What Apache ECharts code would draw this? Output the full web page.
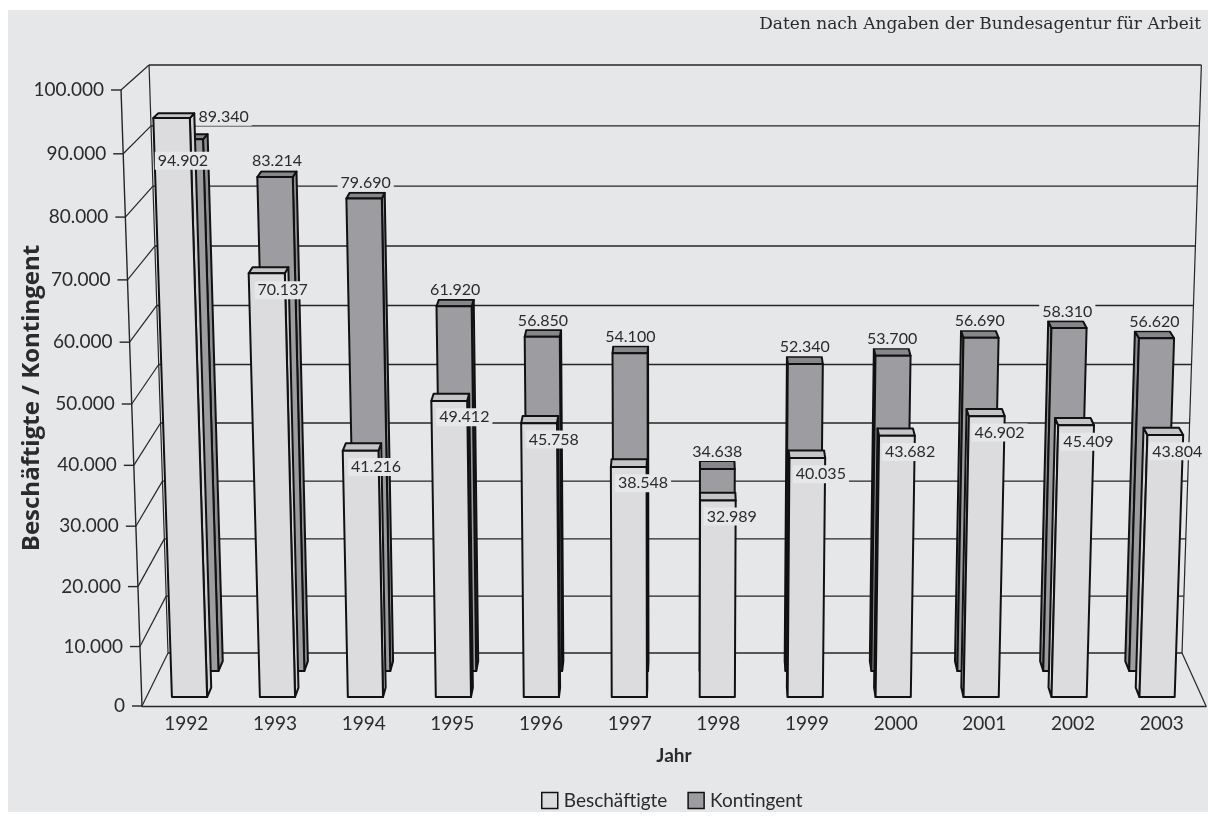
<!DOCTYPE html>
<html>
<head>
<meta charset="utf-8">
<script src="https://cdn.jsdelivr.net/npm/echarts@6/dist/echarts.min.js"></script>
<style>
  html, body { margin: 0; padding: 0; background: #ffffff; }
  #chart { width: 1208px; height: 818px; }
</style>
</head>
<body>
<div id="chart"></div>
<script>
// ---- data ----
const years = ['1992', '1993', '1994', '1995', '1996', '1997', '1998', '1999', '2000', '2001', '2002', '2003'];
const beschaeftigte = [94902, 70137, 41216, 49412, 45758, 38548, 32989, 40035, 43682, 46902, 45409, 43804];
const kontingent = [89340, 83214, 79690, 61920, 56850, 54100, 34638, 52340, 53700, 56690, 58310, 56620];
const valueTicks = [0, 10000, 20000, 30000, 40000, 50000, 60000, 70000, 80000, 90000, 100000];
const valueTickLabels = ['0', '10.000', '20.000', '30.000', '40.000', '50.000', '60.000', '70.000', '80.000', '90.000', '100.000'];
const seriesNames = ['Beschäftigte', 'Kontingent'];
const valueMax = 100000;

// ---- pseudo-3D box geometry ----
// homogeneous perspective coefficients (pixels): t = height share, d = depth share
const CAM = { bx: -25.6, bw: -0.0382, cx: 34.3, cy: -20.8, cw: 0.0493 };
const ROW_DEPTH = { front: [0.163, 0.337], back: [0.65, 0.84] };
const BAR_SPAN = [0.29, 0.69];          // part of a category band filled by a column
const LABEL_OFFSET = { front: [14, 20], back: [0, -13] };
const LABEL_NUDGE = { front: { 0: [-5, 25] }, back: { 0: [36, -7] } };

const COLORS = {
  wall: '#e6e7e9',
  grid: '#262626',
  edge: '#111111',
  text: '#2b2b2b',
  front: { face: '#dcdcdf', top: '#c5c5c8', side: '#d1d1d4' },
  back: { face: '#9d9da1', top: '#87878b', side: '#8f8f93' }
};
const FONT = 'Lato, "Open Sans", sans-serif';

function fmt(v) {
  return String(v).replace(/\B(?=(\d{3})+(?!\d))/g, '.');
}

// maps the flat cartesian grid onto the perspective box
function makeProjector(api) {
  const origin = api.coord([0, 0]);
  const band = api.size([1, 0])[0];
  const y0 = origin[1];
  const y1 = api.coord([0, valueMax])[1];
  const xL = origin[0] - band / 2;
  const by = y1 * (1 + CAM.bw) - y0;
  function P(px, t, d) {
    const w = 1 + CAM.bw * t + CAM.cw * d;
    return [(px + CAM.bx * t + CAM.cx * d) / w, (y0 + by * t + CAM.cy * d) / w];
  }
  function tOf(v) {
    return (y0 - api.coord([0, v])[1]) / (y0 - y1);
  }
  return { P, tOf, band, xL, xR: xL + band * years.length };
}

function line(a, b, width, color, z2) {
  return {
    type: 'line',
    shape: { x1: a[0], y1: a[1], x2: b[0], y2: b[1] },
    style: { stroke: color, lineWidth: width },
    z2: z2 || 1,
    silent: true
  };
}

// back wall, left wall, floor, value ticks and their labels
function renderFrame(params, api) {
  const pr = makeProjector(api);
  const v = api.value(1);
  const t = pr.tOf(v);
  const P = pr.P;
  const children = [];
  const frontPt = P(pr.xL, t, 0);
  children.push(line(P(pr.xL, t, 1), P(pr.xR, t, 1), 1.4, COLORS.grid));
  children.push(line(frontPt, P(pr.xL, t, 1), 1.2, COLORS.grid));
  children.push(line(frontPt, [frontPt[0] - 10, frontPt[1]], 1.4, COLORS.grid));
  children.push({
    type: 'text',
    x: frontPt[0] - 17,
    y: frontPt[1],
    style: {
      text: valueTickLabels[params.dataIndex],
      font: '19px ' + FONT,
      fill: COLORS.text,
      align: 'right',
      verticalAlign: 'middle'
    },
    silent: true
  });
  if (params.dataIndex === 0) {
    children.push(line(P(pr.xL, 0, 0), P(pr.xL, 1, 0), 1.4, COLORS.grid));
    children.push(line(P(pr.xL, 0, 1), P(pr.xL, 1, 1), 1.2, COLORS.grid));
    children.push(line(P(pr.xR, 0, 1), P(pr.xR, 1, 1), 1.2, COLORS.grid));
    children.push(line(P(pr.xR, 0, 0), P(pr.xR, 0, 1), 1.2, COLORS.grid));
  }
  return { type: 'group', children };
}

function makeBarRenderer(row, zBase) {
  const depth = ROW_DEPTH[row];
  const pal = COLORS[row];
  return function (params, api) {
    const pr = makeProjector(api);
    const P = pr.P;
    const i = api.value(0);
    const v = api.value(1);
    const c = api.coord([i, v]);
    const start = c[0] - pr.band / 2;
    const xa = start + BAR_SPAN[0] * pr.band;
    const xb = start + BAR_SPAN[1] * pr.band;
    const t = pr.tOf(v);
    const d0 = depth[0], d1 = depth[1];
    const fA = P(xa, 0, d0), fB = P(xb, 0, d0), fC = P(xb, t, d0), fD = P(xa, t, d0);
    const bA = P(xa, 0, d1), bB = P(xb, 0, d1), bC = P(xb, t, d1), bD = P(xa, t, d1);
    const stroke = { stroke: COLORS.edge, lineWidth: 2, lineJoin: 'round' };
    const children = [];
    if (bC[0] > fC[0] + 0.3) {
      children.push({ type: 'polygon', shape: { points: [fB, bB, bC, fC] },
        style: Object.assign({ fill: pal.side }, stroke), z2: zBase });
    }
    if (bD[0] < fD[0] - 0.3) {
      children.push({ type: 'polygon', shape: { points: [fA, bA, bD, fD] },
        style: Object.assign({ fill: pal.side }, stroke), z2: zBase });
    }
    children.push({ type: 'polygon', shape: { points: [fD, fC, bC, bD] },
      style: Object.assign({ fill: pal.top }, stroke), z2: zBase + 1 });
    children.push({ type: 'polygon', shape: { points: [fA, fB, fC, fD] },
      style: Object.assign({ fill: pal.face }, stroke), z2: zBase + 2 });

    const topCenter = P((xa + xb) / 2, t, (d0 + d1) / 2);
    const off = LABEL_OFFSET[row];
    const nudge = LABEL_NUDGE[row][params.dataIndex] || [0, 0];
    children.push({
      type: 'text',
      x: topCenter[0] + off[0] + nudge[0],
      y: topCenter[1] + off[1] + nudge[1],
      style: {
        text: fmt(v),
        font: '16px ' + FONT,
        fill: COLORS.text,
        align: 'center',
        verticalAlign: 'middle',
        backgroundColor: COLORS.wall,
        padding: [1, 3]
      },
      z2: 100
    });
    return { type: 'group', children };
  };
}

const chart = echarts.init(document.getElementById('chart'), null, { renderer: 'canvas' });

chart.setOption({
  backgroundColor: '#ffffff',
  animation: false,
  graphic: [
    {
      type: 'rect',
      shape: { x: 8, y: 10, width: 1200, height: 802 },
      style: { fill: COLORS.wall },
      z: -10,
      silent: true
    },
    {
      type: 'text',
      x: 1201,
      y: 25,
      style: {
        text: 'Daten nach Angaben der Bundesagentur für Arbeit',
        font: '17px "DejaVu Serif", serif',
        fill: COLORS.text,
        align: 'right',
        verticalAlign: 'middle'
      },
      z: 5,
      silent: true
    }
  ],
  grid: { left: 142, right: 2, top: 90, bottom: 112 },
  legend: {
    left: 536,
    top: 786,
    itemWidth: 16,
    itemHeight: 16,
    itemGap: 20,
    icon: 'rect',
    textStyle: { fontFamily: FONT, fontSize: 19, color: COLORS.text, padding: [0, 0, 0, 1] },
    data: [
      { name: seriesNames[0], itemStyle: { color: COLORS.front.face, borderColor: COLORS.edge, borderWidth: 1.5 } },
      { name: seriesNames[1], itemStyle: { color: COLORS.back.face, borderColor: COLORS.edge, borderWidth: 1.5 } }
    ]
  },
  xAxis: {
    type: 'category',
    data: years,
    boundaryGap: true,
    axisLine: { lineStyle: { color: COLORS.grid, width: 1.4 } },
    axisTick: { length: 10, lineStyle: { color: COLORS.grid, width: 1.4 } },
    axisLabel: { fontFamily: FONT, fontSize: 19, color: COLORS.text, margin: 8 },
    splitLine: { show: false },
    name: 'Jahr',
    nameLocation: 'middle',
    nameGap: 40,
    nameTextStyle: { fontFamily: FONT, fontSize: 19, fontWeight: 'bold', color: COLORS.text }
  },
  yAxis: {
    type: 'value',
    min: 0,
    max: valueMax,
    interval: 10000,
    axisLine: { show: false },
    axisTick: { show: false },
    axisLabel: { show: false },
    splitLine: { show: false },
    name: 'Beschäftigte / Kontingent',
    nameLocation: 'middle',
    nameGap: 98,
    nameTextStyle: { fontFamily: '"Open Sans", sans-serif', fontSize: 24, fontWeight: 'bold', color: COLORS.text }
  },
  series: [
    {
      type: 'custom',
      name: 'frame',
      clip: false,
      silent: true,
      renderItem: renderFrame,
      data: valueTicks.map(v => [0, v]),
      encode: { x: 0, y: 1 },
      z: 1
    },
    {
      type: 'custom',
      name: seriesNames[1],
      clip: false,
      itemStyle: { color: COLORS.back.face, borderColor: COLORS.edge, borderWidth: 1.5 },
      renderItem: makeBarRenderer('back', 10),
      data: kontingent.map((v, i) => [i, v]),
      encode: { x: 0, y: 1 },
      z: 2
    },
    {
      type: 'custom',
      name: seriesNames[0],
      clip: false,
      itemStyle: { color: COLORS.front.face, borderColor: COLORS.edge, borderWidth: 1.5 },
      renderItem: makeBarRenderer('front', 20),
      data: beschaeftigte.map((v, i) => [i, v]),
      encode: { x: 0, y: 1 },
      z: 3
    }
  ]
});
</script>
</body>
</html>
